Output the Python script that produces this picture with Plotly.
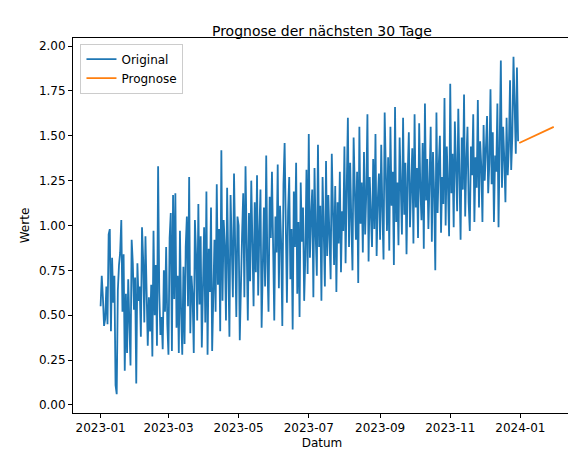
import plotly.graph_objects as go
import pandas as pd

jan=[0.55,0.72,0.60,0.44,0.48,0.66,0.45,0.95,0.98,0.41,0.82,0.57,0.72,0.11,0.06,0.64,0.78,0.85,1.03,0.52,0.84,0.19,0.62,0.29,0.70,0.47,0.22,0.92,0.79,0.53,0.71]
feb=[0.12,0.79,0.58,0.66,0.38,0.99,0.81,0.46,0.94,0.58,0.33,0.60,0.41,0.67,0.27,0.97,0.50,0.78,0.33,1.33,0.63,0.39,0.49,0.31,0.75,0.52,0.88,0.45]
mar=[0.28,0.93,1.07,0.30,1.17,0.59,1.18,0.43,0.72,0.29,0.97,0.51,0.28,0.77,0.34,0.88,1.05,0.55,1.27,0.40,0.72,0.61,0.29,1.03,0.84,0.47,1.12,0.56,0.94,0.32,0.80]
apr=[0.99,0.46,1.19,0.28,0.87,0.63,1.10,0.30,0.73,0.92,0.52,1.23,0.67,0.98,0.41,1.42,0.58,1.03,0.89,0.47,1.21,0.75,0.38,1.17,0.93,0.60,1.29,0.84,0.49,1.05]
may=[1.00,0.36,0.78,0.95,1.18,0.60,1.33,0.82,0.47,1.07,0.69,1.25,0.92,0.55,1.13,0.74,1.28,0.61,0.96,1.20,0.43,0.88,1.10,0.66,1.39,0.79,0.52,1.16,0.93,1.30,0.72]
jun=[0.47,1.05,0.85,1.34,0.65,1.11,0.90,0.44,1.23,1.46,0.80,0.57,1.08,1.27,0.70,0.98,0.42,1.19,0.88,1.35,0.62,1.02,0.49,1.24,0.91,1.10,0.58,0.83,1.31,0.73]
jul=[1.51,0.82,1.05,1.20,0.60,1.32,0.95,0.72,1.45,0.88,1.11,0.58,1.27,0.99,0.66,1.36,0.83,1.17,0.93,0.70,1.40,1.04,0.78,1.22,0.63,1.13,0.90,1.30,0.74,1.08,0.97]
aug=[1.44,0.79,1.21,1.60,0.88,1.35,1.02,0.75,1.49,1.12,0.92,1.30,0.68,1.55,1.01,1.24,0.85,1.41,0.95,1.18,1.62,0.80,1.27,1.06,0.88,1.37,0.98,1.51,0.83,1.14,1.29]
sep=[0.92,1.45,1.08,0.81,1.63,1.20,0.97,1.38,0.86,1.55,1.11,1.30,0.78,1.66,1.02,1.24,0.89,1.49,1.15,0.95,1.60,1.06,1.35,0.84,1.28,1.52,0.99,1.18,1.43,0.90]
oct_=[1.62,1.10,1.32,0.93,1.57,1.21,1.03,1.46,0.87,1.68,1.14,1.37,0.98,1.25,1.55,0.91,1.41,1.19,0.75,1.63,1.07,1.33,1.50,0.96,1.27,1.12,1.71,1.00,1.44,1.22,0.94]
nov=[1.79,1.18,1.40,0.99,1.58,1.26,1.08,1.65,1.31,0.92,1.49,1.20,1.73,1.05,1.36,1.55,1.13,0.97,1.44,1.28,1.62,1.02,1.38,1.21,1.70,1.10,1.47,1.33,1.02,1.56]
dec=[1.25,1.43,1.61,1.18,1.35,1.76,1.23,1.52,1.02,1.39,1.30,1.68,0.99,1.46,1.92,1.21,1.55,1.37,1.13,1.60,1.28,1.44,1.81,1.31,1.50,1.94,1.62,1.40,1.88,1.47]
original = jan+feb+mar+apr+may+jun+jul+aug+sep+oct_+nov+dec
forecast_start, forecast_end = 1.46, 1.55
n_fc = 31

dates = pd.date_range("2023-01-01", periods=len(original))
fc_dates = pd.date_range(dates[-1] + pd.Timedelta(days=1), periods=n_fc)
fc_vals = [forecast_start + (forecast_end-forecast_start)*i/(n_fc-1) for i in range(n_fc)]

tickvals = pd.date_range("2023-01-01", "2024-01-01", freq="2MS")
ticktext = [d.strftime("%Y-%m") for d in tickvals]
ytick = [0, 0.25, 0.5, 0.75, 1.0, 1.25, 1.5, 1.75, 2.0]

fig = go.Figure()
fig.add_trace(go.Scatter(x=dates, y=original, mode="lines", name="Original", line=dict(color="#1f77b4", width=1.8)))
fig.add_trace(go.Scatter(x=fc_dates, y=fc_vals, mode="lines", name="Prognose", line=dict(color="#ff7f0e", width=1.8)))
axis = dict(showline=True, mirror=True, linecolor="black", linewidth=1, ticks="outside", ticklen=4, tickcolor="black",
            showgrid=False, zeroline=False, automargin=False, tickfont=dict(size=12))
fig.update_layout(
    width=576, height=455, plot_bgcolor="white", paper_bgcolor="white",
    margin=dict(l=65, r=13, t=30, b=50),
    font=dict(family="DejaVu Sans", size=12, color="black"),
    title=dict(text="Prognose der nächsten 30 Tage", x=0.545, xanchor="center", y=0.96, font=dict(size=14)),
    xaxis=dict(axis, range=["2022-12-08", "2024-02-14"], tickvals=tickvals, ticktext=ticktext, title=dict(text="Datum", standoff=4, font=dict(size=12))),
    yaxis=dict(axis, range=[-0.045, 2.045], tickvals=ytick, ticktext=[f"{v:.2f}" for v in ytick], title=dict(text="Werte", standoff=6, font=dict(size=12))),
    legend=dict(x=0.015, y=0.985, xanchor="left", yanchor="top", bordercolor="#cccccc", borderwidth=1, bgcolor="white"),
    showlegend=True,
)
fig.write_html("out.html")
